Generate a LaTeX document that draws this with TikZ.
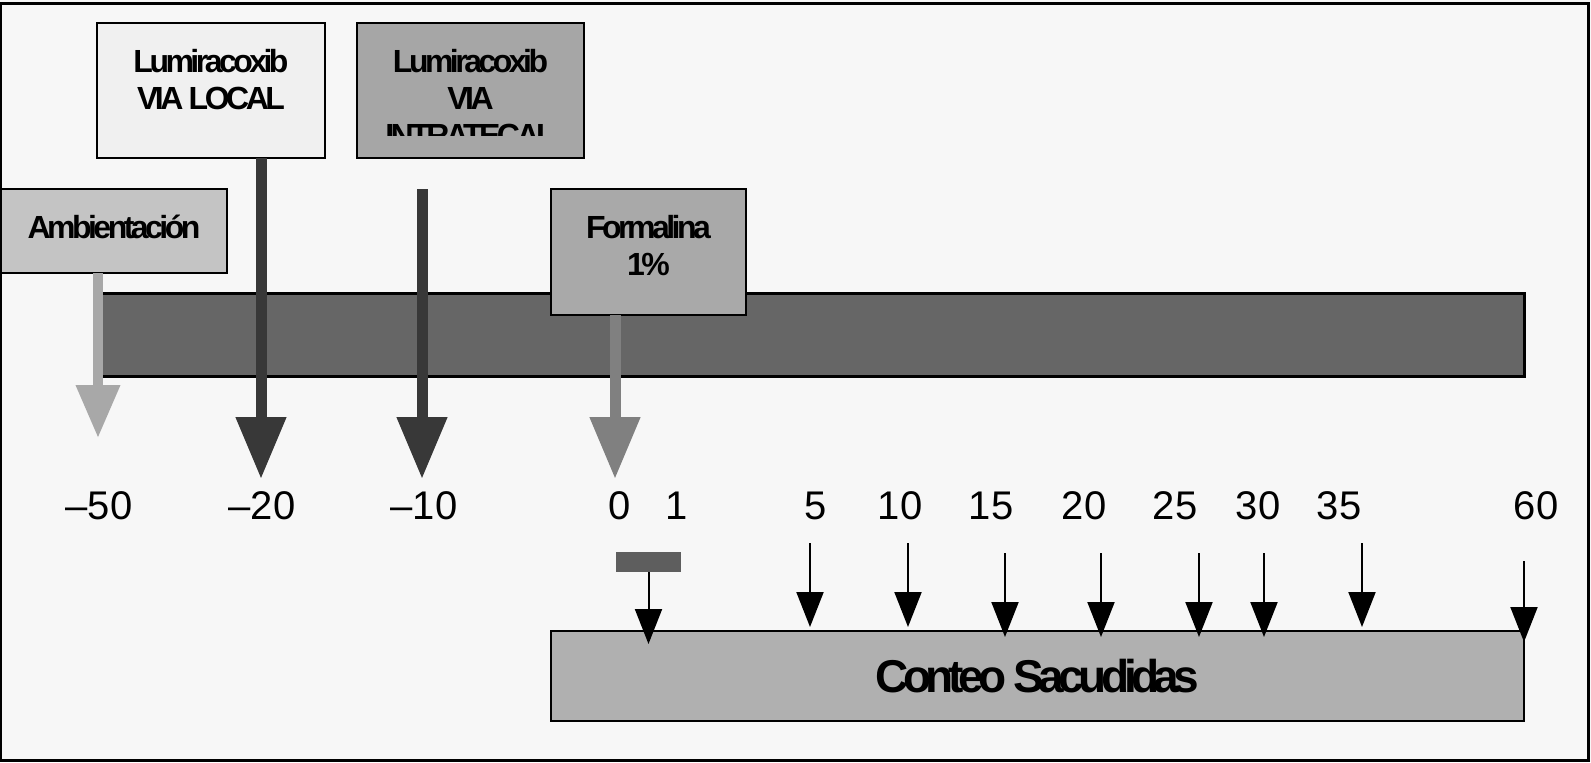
\documentclass[tikz,border=0pt]{standalone}
\usepackage{fontspec}
\setmainfont{Liberation Sans}
\newfontfamily\boxfont[LetterSpace=-11]{Liberation Sans}
\newfontfamily\countfont[LetterSpace=-12]{Liberation Sans}
\usepackage{xcolor}
\usetikzlibrary{arrows.meta,positioning}
\definecolor{paper}{HTML}{F7F7F7}
\definecolor{localgray}{HTML}{F0F0F0}
\definecolor{intragray}{HTML}{A6A6A6}
\definecolor{ambgray}{HTML}{C4C4C4}
\definecolor{bargray}{HTML}{666666}
\definecolor{formgray}{HTML}{A9A9A9}
\definecolor{countgray}{HTML}{B0B0B0}
\definecolor{markgray}{HTML}{5E5E5E}
\definecolor{lightarrow}{HTML}{A8A8A8}
\definecolor{darkarrow}{HTML}{383838}
\definecolor{midarrow}{HTML}{808080}

\begin{document}
\begin{tikzpicture}[x=0.5pt,y=-0.5pt,
  drug node/.style={rectangle,draw=black,line width=1.2pt,anchor=north west,inner sep=0pt,outer sep=0pt},
  box text/.style={font=\boxfont\bfseries\fontsize{16}{18.5}\selectfont,align=center,inner sep=0pt},
  tick label/.style={font=\fontsize{20}{24}\selectfont,anchor=base,inner sep=0pt},
  fat arrow/.style={line width=5.5pt,-{Triangle[length=31pt,width=24pt]}},
  thin arrow/.style={line width=1pt,-{Triangle[length=17.5pt,width=13.5pt]}}]

  \useasboundingbox (0,0) rectangle (1591,762);
  \fill[paper] (0,0) rectangle (1591,762);

  \node[drug node,fill=localgray,minimum width=114pt,minimum height=67.5pt]   (local) at (97,23) {};
  \node[drug node,fill=intragray,minimum width=113.5pt,minimum height=67.5pt] (intra) at (357,23) {};
  \node[drug node,fill=ambgray,minimum width=113.5pt,minimum height=42pt]     (amb) at (0,189) {};
  \node[drug node,fill=bargray,line width=1.5pt,minimum width=713pt,minimum height=41.5pt] (bar) at (98,293) {};
  \node[drug node,fill=formgray,minimum width=97.5pt,minimum height=63pt]     (form) at (551,189) {};
  \node[drug node,fill=countgray,minimum width=486.5pt,minimum height=45pt,
        font=\countfont\bfseries\fontsize{23}{26}\selectfont] (conteo) at (551,631) {Conteo Sacudidas};
  \node[drug node,draw=none,fill=markgray,minimum width=32.5pt,minimum height=10pt] (mark) at (616,552) {};

  \node[box text] (localtxt) [below=12.85pt of local.north] {Lumiracoxib\\VIA LOCAL};
  \begin{scope}
    \clip (intra.north west) rectangle ([yshift=11.5pt]intra.south east);
    \node[box text] (intratxt) [below=12.85pt of intra.north] {Lumiracoxib\\VIA\\INTRATECAL};
  \end{scope}
  \node[box text,anchor=base] (ambtxt) at (114,238) {Ambientación};
  \node[box text] (formtxt) [below=12.85pt of form.north] {Formalina\\1\%};

  % big arrows
  \coordinate (t50) at (98,438);
  \coordinate (t20) at (261,479);
  \coordinate (s10) at (422,189);
  \coordinate (t10) at (422,479);
  \coordinate (t0)  at (615,479);
  \draw[line width=5pt,-{Triangle[length=26.5pt,width=21pt]},lightarrow] (amb.south -| t50) -- (t50);
  \draw[fat arrow,darkarrow] (local.south -| t20) -- (t20);
  \draw[fat arrow,darkarrow] (s10) -- (t10);
  \draw[fat arrow,midarrow] (form.south -| t0) -- (t0);

  \foreach \t/\x in {–50/99,–20/262,–10/424,0/620,1/677,5/816,10/900,15/991,20/1084,25/1175,30/1258,35/1339,60/1536}
    \node[tick label] (n\x) at (\x,519) {\t};

  % small arrows
  \coordinate (emark) at (648,644);
  \draw[thin arrow] (mark.south) -- (mark.south |- emark);
  \foreach \x/\a/\b in {810/543/627,908/543/627,1005/553/637,1101/553/637,1199/553/637,1264/553/637,1362/543/627,1524/561/642}{
    \coordinate (s\x) at (\x,\a);
    \coordinate (e\x) at (\x,\b);
    \draw[thin arrow] (s\x) -- (e\x);
  }

  \draw[line width=1.5pt] (0.75,3) rectangle (1588,760);
\end{tikzpicture}
\end{document}
